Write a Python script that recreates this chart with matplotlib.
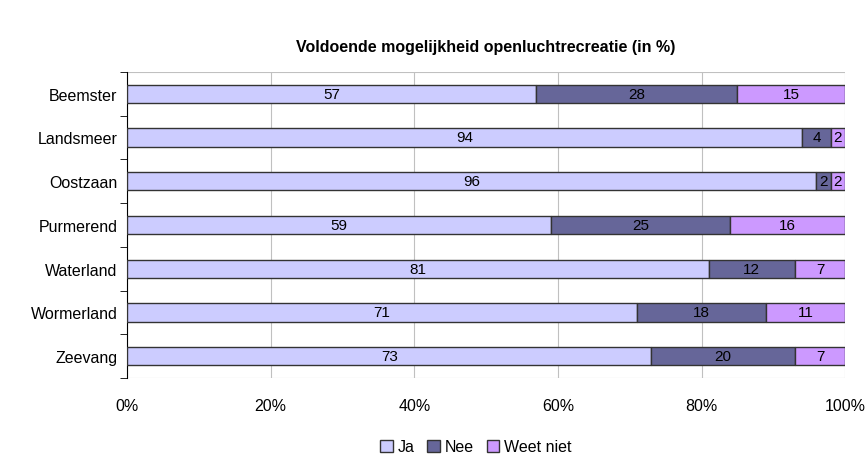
import numpy as np
import matplotlib.pyplot as plt

plt.rcParams['font.family'] = ['Liberation Sans', 'DejaVu Sans']

# Data
gemeenten = ["Beemster", "Landsmeer", "Oostzaan", "Purmerend", "Waterland", "Wormerland", "Zeevang"]
ja = [57, 94, 96, 59, 81, 71, 73]
nee = [28, 4, 2, 25, 12, 18, 20]
weet_niet = [15, 2, 2, 16, 7, 11, 7]

series = [("Ja", ja, "#CCCCFF"), ("Nee", nee, "#666699"), ("Weet niet", weet_niet, "#CC99FF")]

fig = plt.figure(figsize=(8.65, 4.64), dpi=100)
ax = fig.add_axes([0.147, 0.183, 0.83, 0.66])

y = np.arange(len(gemeenten))
left = np.zeros(len(gemeenten))
for name, vals, color in series:
    vals = np.array(vals, dtype=float)
    bars = ax.barh(y, vals, left=left, height=0.42, color=color,
                   edgecolor="#333333", linewidth=1.0, label=name, zorder=3)
    for b, v, l in zip(bars, vals, left):
        ax.text(l + v / 2, b.get_y() + b.get_height() / 2, f"{int(v)}",
                ha="center", va="center", fontsize=11, zorder=4)
    left += vals

ax.set_xlim(0, 100)
ax.set_ylim(len(gemeenten) - 0.5, -0.5)
ax.set_xticks(np.arange(0, 101, 20))
ax.set_xticklabels([f"{t}%" for t in range(0, 101, 20)], fontsize=11.5)
ax.set_yticks(y)
ax.set_yticklabels(gemeenten, fontsize=11.5)
ax.tick_params(axis="y", length=0, pad=7)
ax.tick_params(axis="x", length=0, pad=14)
# tick marks between categories
ax.set_yticks(np.arange(-0.5, len(gemeenten)), minor=True)
ax.tick_params(axis="y", which="minor", length=5, color="black")

ax.grid(axis="x", color="#C0C0C0", linewidth=0.8, zorder=0)
for s in ["top", "right", "bottom"]:
    ax.spines[s].set_visible(False)
ax.spines["left"].set_color("black")
ax.axhline(len(gemeenten) - 0.5, color="#C0C0C0", linewidth=0.8, zorder=1)
ax.axhline(-0.5, color="#C0C0C0", linewidth=0.8, zorder=1)

ax.set_title("Voldoende mogelijkheid openluchtrecreatie (in %)", fontsize=11.5,
             fontweight="bold", pad=15)

fig.legend(loc="lower center", bbox_to_anchor=(0.55, -0.012), ncol=3, frameon=False,
           fontsize=11.5, handlelength=0.8, handleheight=0.8, handletextpad=0.3,
           columnspacing=0.8)

fig.savefig("out.png", dpi=100)
